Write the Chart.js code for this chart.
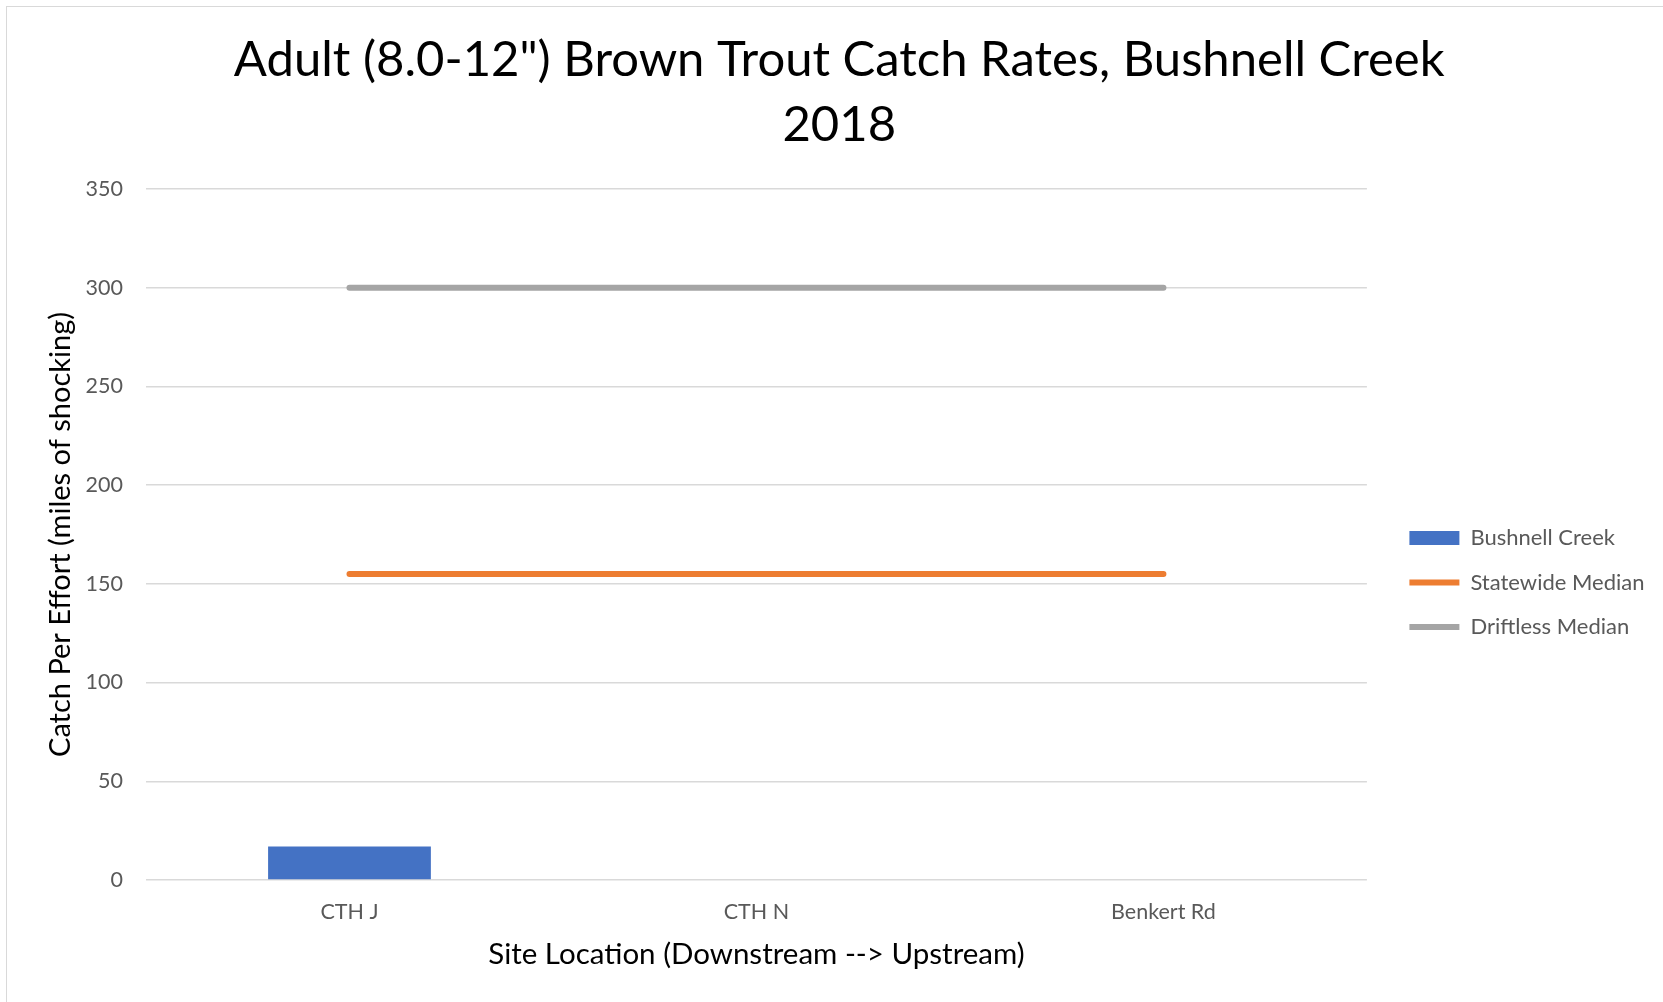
<!DOCTYPE html>
<html>
<head>
<meta charset="utf-8">
<script src="https://cdn.jsdelivr.net/npm/chart.js@4"></script>
<style>
  html, body { margin: 0; padding: 0; background: #fff; overflow: hidden; }
  #wrap { position: relative; width: 1663px; height: 1002px; }
  #frame { position: absolute; left: 6px; top: 6px; width: 2000px; height: 2000px;
           border-left: 1.5px solid #d9d9d9; border-top: 1.5px solid #d9d9d9; }
  canvas { position: absolute; left: 0; top: 0; }
</style>
</head>
<body>
<div id="wrap">
  <div id="frame"></div>
  <canvas id="chart" width="1663" height="1002"></canvas>
</div>
<script>
const sites = ['CTH J', 'CTH N', 'Benkert Rd'];
const bushnellCreek = [17, null, null];
const statewideMedian = [155, 155, 155];
const driftlessMedian = [300, 300, 300];
const yTicks = { min: 0, max: 350, step: 50 };

const FONT = 'Lato, Calibri, Carlito, sans-serif';
const mainCtx = document.getElementById('chart').getContext('2d');

new Chart(mainCtx, {
    type: 'bar',
    data: {
        labels: sites,
        datasets: [
            {
                type: 'bar',
                label: 'Bushnell Creek',
                data: bushnellCreek,
                backgroundColor: '#4472c4',
                borderWidth: 0,
                barPercentage: 0.4,
                categoryPercentage: 1,
                pointStyle: 'rect'
            },
            {
                type: 'line',
                label: 'Statewide Median',
                data: statewideMedian,
                borderColor: '#ed7d31',
                backgroundColor: '#ed7d31',
                borderWidth: 6,
                borderCapStyle: 'round',
                pointRadius: 0,
                pointStyle: 'line'
            },
            {
                type: 'line',
                label: 'Driftless Median',
                data: driftlessMedian,
                borderColor: '#a5a5a5',
                backgroundColor: '#a5a5a5',
                borderWidth: 6,
                borderCapStyle: 'round',
                pointRadius: 0,
                pointStyle: 'line'
            }
        ]
    },
    options: {
        responsive: false,
        animation: false,
        layout: { padding: { left: 24, right: 8.5, top: 0, bottom: 16 } },
        plugins: {
            title: {
                display: true,
                text: ['Adult (8.0-12") Brown Trout Catch Rates, Bushnell Creek', '2018'],
                color: '#000000',
                font: { family: FONT, size: 49, weight: 'normal', lineHeight: 1.316 },
                padding: { top: 28, bottom: 32 }
            },
            legend: {
                position: 'right',
                align: 'center',
                // empty title only pushes the entries down to where the reference has them
                title: { display: true, text: '', font: { size: 12, lineHeight: 1.2 }, padding: { top: 164.6, bottom: 0 } },
                labels: {
                    color: '#595959',
                    font: { family: FONT, size: 22 },
                    usePointStyle: true,
                    pointStyleWidth: 50,
                    boxHeight: 14,
                    padding: 22.5
                }
            },
            tooltip: { enabled: false }
        },
        scales: {
            x: {
                grid: { display: false, drawTicks: false },
                border: { display: false },
                ticks: { color: '#595959', font: { family: FONT, size: 21.5 }, padding: 19.4 },
                title: {
                    display: true,
                    text: 'Site Location (Downstream --> Upstream)',
                    color: '#000000',
                    font: { family: FONT, size: 29.5 },
                    padding: { top: 0, bottom: 13.4 }
                },
                afterFit: (scale) => { scale.height = 106; }
            },
            y: {
                min: yTicks.min,
                max: yTicks.max,
                ticks: { stepSize: yTicks.step, color: '#595959', font: { family: FONT, size: 21.5 }, padding: 23 },
                grid: { color: '#d9d9d9', lineWidth: 1.5, drawTicks: false },
                border: { display: false },
                title: {
                    display: true,
                    text: 'Catch Per Effort (miles of shocking)',
                    color: '#000000',
                    font: { family: FONT, size: 29 },
                    padding: { top: 19.6, bottom: 0 }
                },
                afterFit: (scale) => { scale.width = 122; }
            },
            gap: {
                position: 'right',
                display: true,
                grid: { display: false },
                border: { display: false },
                ticks: { display: false },
                afterFit: (scale) => { scale.width = 20; }
            }
        }
    }
});
</script>
</body>
</html>
